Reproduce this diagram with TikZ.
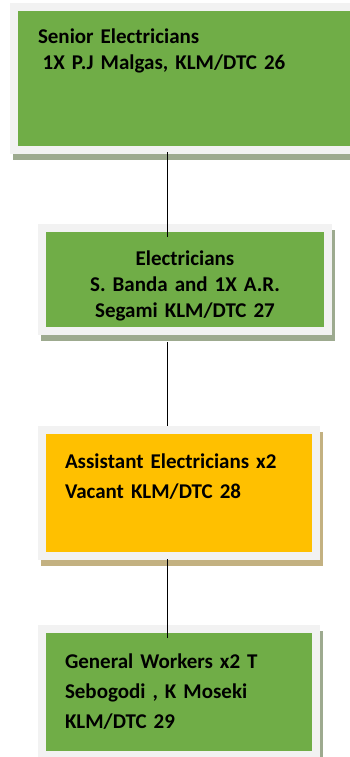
\documentclass[tikz,border=0pt]{standalone}
\usepackage{fontspec}
\setmainfont{Carlito}
\usetikzlibrary{calc}
\definecolor{boxgreen}{HTML}{70AD47}
\definecolor{boxorange}{HTML}{FFC000}
\definecolor{framegray}{HTML}{F2F2F2}
\definecolor{shgreen}{HTML}{9DAA8F}
\definecolor{shorange}{HTML}{C3B181}
\begin{document}
\begin{tikzpicture}[x=1pt,y=-1pt,
  boxbase/.style={rectangle, draw=framegray, line width=8pt, inner sep=0pt, outer sep=0pt},
  greenbox/.style={boxbase, fill=boxgreen,
    preaction={draw=shgreen, fill=shgreen, line width=8pt, transform canvas={shift={(3pt,-6pt)}}}},
  orangebox/.style={boxbase, fill=boxorange,
    preaction={draw=shorange, fill=shorange, line width=8pt, transform canvas={shift={(3pt,-6pt)}}}},
  txt/.style={inner sep=0pt, outer sep=0pt, text=black},
  conn/.style={draw=black, line width=1.2pt}]
\useasboundingbox (0,0) rectangle (349,757);

\node[greenbox, minimum width=350pt, minimum height=143pt] (b1) at (189,78.5) {};
\node[greenbox, minimum width=286pt, minimum height=103pt] (b2) at (185,279.5) {};
\node[orangebox, minimum width=274pt, minimum height=126pt] (b3) at (179,493) {};
\node[greenbox, minimum width=274pt, minimum height=126pt] (b4) at (179,692) {};

\node[txt, text width=300pt, align=left, anchor=base west,
  font={\bfseries\fontsize{21pt}{26pt}\selectfont}] (t1) at (38,44)
  {Senior Electricians\\\hspace*{4.7pt}1X P.J Malgas, KLM/DTC 26};
\node[txt, text width=286pt, align=center, anchor=base,
  font={\bfseries\fontsize{21pt}{26.3pt}\selectfont}] (t2) at (185,265)
  {Electricians\\S. Banda and 1X A.R.\\Segami KLM/DTC 27};
\node[txt, text width=250pt, align=left, anchor=base west,
  font={\bfseries\fontsize{21pt}{30pt}\selectfont}] (t3) at (65,468.3)
  {Assistant Electricians x2\\Vacant KLM/DTC 28};
\node[txt, text width=250pt, align=left, anchor=base west,
  font={\bfseries\fontsize{21pt}{30pt}\selectfont}] (t4) at (65,668.3)
  {General Workers x2 T\\Sebogodi , K Moseki\\KLM/DTC 29};

\coordinate (lx) at (167.5,0);
\draw[conn] ($(b1.south -| lx)+(0,2)$) -- ($(b2.north -| lx)+(0,9)$);
\draw[conn] ($(b2.south -| lx)+(0,11)$) -- ($(b3.north -| lx)+(0,-4)$);
\draw[conn] ($(b3.south -| lx)+(0,3)$) -- ($(b4.north -| lx)+(0,9)$);
\end{tikzpicture}
\end{document}
